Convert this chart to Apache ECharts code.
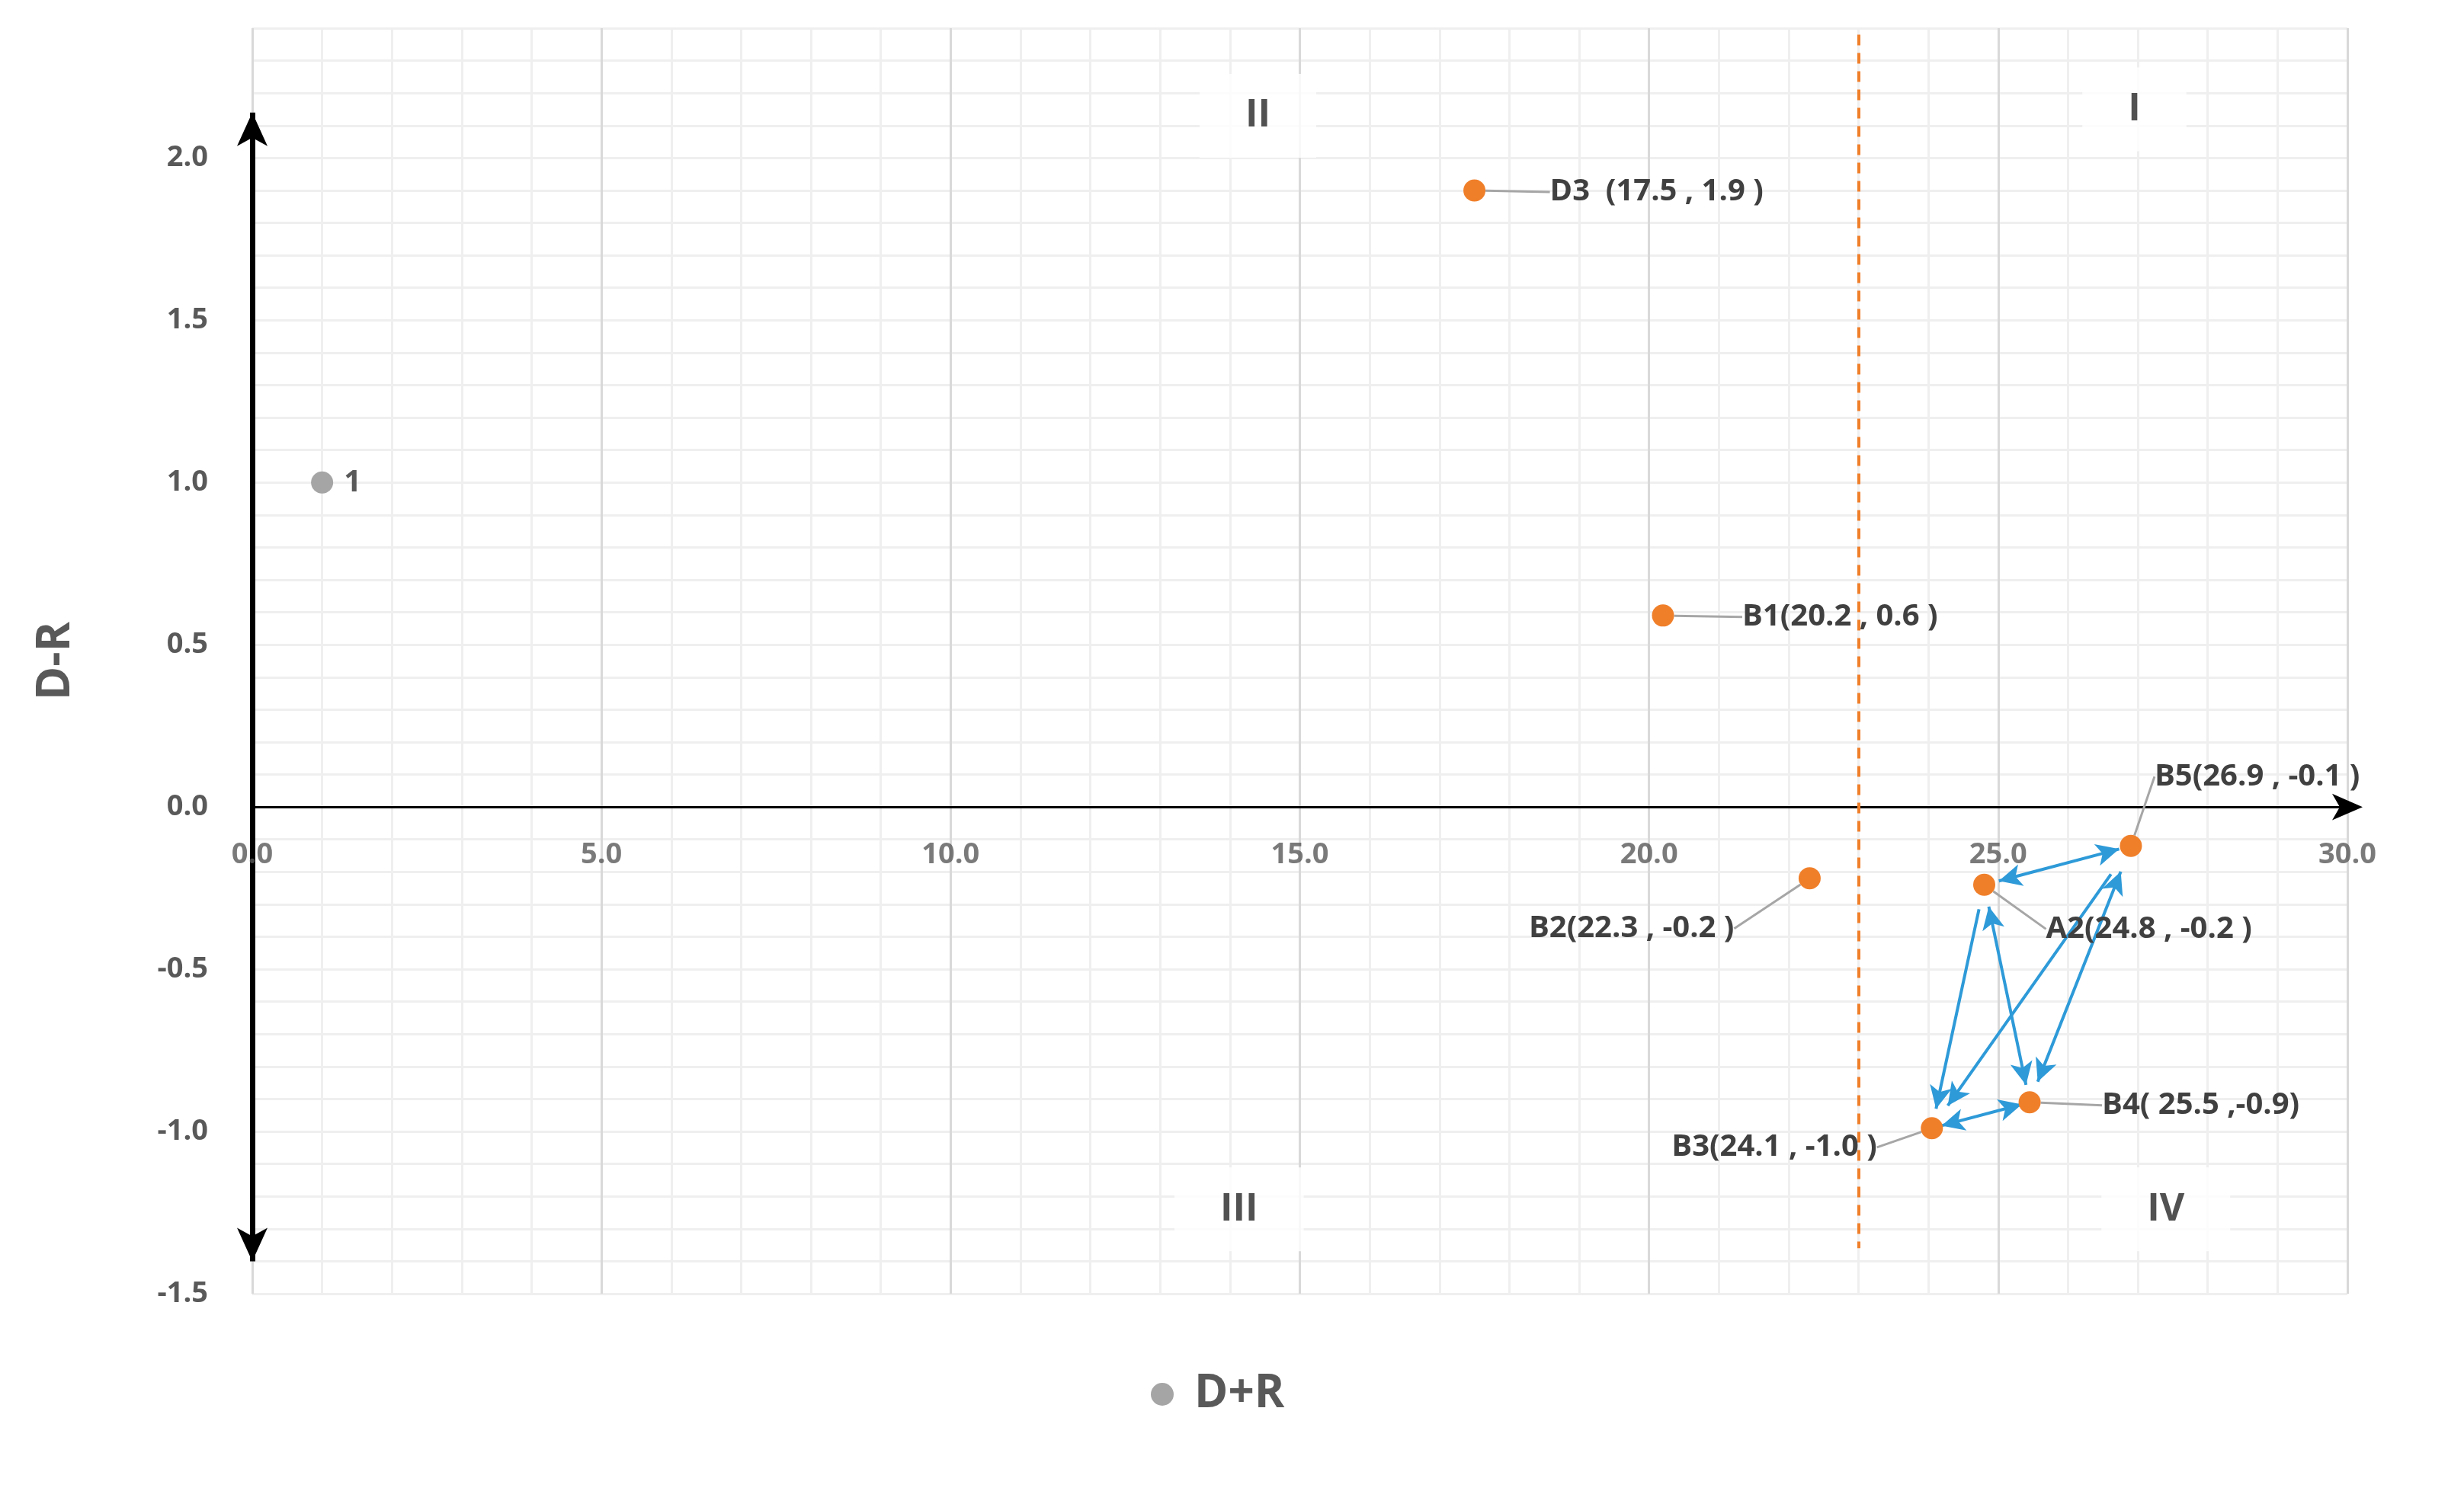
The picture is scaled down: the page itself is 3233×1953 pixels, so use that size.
<!DOCTYPE html>
<html lang="en">
<head>
<meta charset="utf-8">
<title>D+R / D-R</title>
<style>
* { margin: 0; padding: 0; }
#chart-container { position: relative; width: 3233px; height: 1953px; overflow: hidden; background: #fff; }
</style>
</head>
<body>
<div id="chart-container"></div>
<script src="https://cdn.jsdelivr.net/npm/echarts@6/dist/echarts.min.js"></script>
<script>
// data
const pointNames = ['D3', 'B1', 'B2', 'A2', 'B5', 'B3', 'B4'];
const pointX = [17.5, 20.2, 22.3, 24.8, 26.9, 24.05, 25.45];
const pointY = [1.9, 0.59, -0.22, -0.24, -0.12, -0.99, -0.91];
const pointLabels = ['D3  (17.5 , 1.9 )', 'B1(20.2 , 0.6 )', 'B2(22.3 , -0.2 )', 'A2(24.8 , -0.2 )',
                     'B5(26.9 , -0.1 )', 'B3(24.1 , -1.0 )', 'B4( 25.5 ,-0.9)'];
const grayX = [1.0];
const grayY = [1.0];
const grayLabels = ['1'];
const thresholdX = 23.0;
const xTicks = [0, 5, 10, 15, 20, 25, 30];
const quadrantNames = ['I', 'II', 'III', 'IV'];
const quadrantX = [26.95, 14.4, 14.13, 27.4];
const quadrantY = [2.15, 2.13, -1.24, -1.24];
// arrows: [from, to, double-headed]
const arrowPairs = [['A2', 'B5', true], ['B3', 'B4', true], ['A2', 'B4', true],
                    ['B5', 'B4', true], ['B5', 'B3', false], ['A2', 'B3', false]];

// label offsets in px (layout only)
const labelOffsets = {
  D3: [99, 2, 'left'], B1: [104, 2, 'left'], B2: [-99, 66, 'right'], A2: [81, 58, 'left'],
  B5: [31, -91, 'left'], B3: [-72, 25, 'right'], B4: [95, 4, 'left']
};

const orange = '#F07F2A';
const blue = '#2E9AD8';
const textCol = '#404040';
const font = "'Liberation Sans Narrow', 'Open Sans', sans-serif";

const idx = n => pointNames.indexOf(n);
function shrink(a, b, f) {
  return [pointX[a] + (pointX[b] - pointX[a]) * f, pointY[a] + (pointY[b] - pointY[a]) * f];
}
const arrowLines = arrowPairs.map(p => {
  const a = idx(p[0]), b = idx(p[1]);
  return [
    { coord: shrink(a, b, 0.1), symbol: p[2] ? 'arrow' : 'none' },
    { coord: shrink(b, a, 0.08), symbol: 'arrow' }
  ];
});

const pointData = pointNames.map((n, i) => ({
  value: [pointX[i], pointY[i]],
  name: n,
  label: { formatter: pointLabels[i], align: labelOffsets[n][2] }
}));

var dom = document.getElementById('chart-container');
var myChart = echarts.init(dom, null, { renderer: 'canvas' });

var option = {
  animation: false,
  textStyle: { fontFamily: font },
  grid: { left: 331, right: 153, top: 37, bottom: 255 },
  legend: {
    data: ['D+R'],
    left: 1505, top: 1795,
    icon: 'circle', itemWidth: 30, itemHeight: 30,
    textStyle: { fontSize: 60, fontWeight: 'bold', color: '#595959', fontFamily: font, padding: [0, 0, 0, 22] }
  },
  xAxis: {
    type: 'value', min: 0, max: 30, interval: 5,
    axisLine: { onZero: true, lineStyle: { color: '#000', width: 3 }, symbol: ['none', 'arrow'], symbolSize: [26, 40], symbolOffset: [0, 20] },
    axisTick: { show: false },
    axisLabel: { show: false },
    splitLine: { lineStyle: { color: '#d9d9d9', width: 3 } },
    minorTick: { show: false, splitNumber: 5 },
    minorSplitLine: { show: true, lineStyle: { color: '#efefef', width: 3 } }
  },
  yAxis: {
    type: 'value', min: -1.5, max: 2.4, interval: 0.5,
    name: 'D-R', nameLocation: 'middle', nameGap: 227,
    nameTextStyle: { fontSize: 60, fontWeight: 'bold', color: '#595959' },
    axisLine: { show: false },
    axisTick: { show: false },
    axisLabel: { fontSize: 38, fontWeight: 'bold', color: '#595959', margin: 58, showMaxLabel: false,
                 formatter: v => v > 2.01 ? '' : v.toFixed(1) },
    splitLine: { lineStyle: { color: '#efefef', width: 3 } },
    minorTick: { show: false, splitNumber: 5 },
    minorSplitLine: { show: true, lineStyle: { color: '#efefef', width: 3 } }
  },
  series: [
    {
      name: 'points', type: 'scatter', symbolSize: 29, z: 5,
      itemStyle: { color: orange, opacity: 1 },
      data: pointData,
      label: { show: true, position: 'inside', fontSize: 40, fontWeight: 'bold', color: textCol, verticalAlign: 'middle' },
      labelLine: { show: true, lineStyle: { color: '#a6a6a6', width: 3 } },
      labelLayout: function (params) {
        const o = labelOffsets[pointNames[params.dataIndex]];
        return { dx: o[0], dy: o[1] };
      },
      markLine: {
        silent: true, symbolSize: [22, 30],
        label: { show: false },
        lineStyle: { color: blue, width: 4, type: 'solid' },
        data: arrowLines
      }
    },
    {
      name: 'D+R', type: 'scatter', symbolSize: 29,
      itemStyle: { color: '#a5a5a5', opacity: 1 },
      data: grayX.map((x, i) => ({ value: [x, grayY[i]], label: { formatter: grayLabels[i] } })),
      label: { show: true, position: 'right', distance: 14, fontSize: 40, fontWeight: 'bold', color: '#595959' },
      markLine: {
        silent: true, symbol: ['none', 'none'], label: { show: false },
        lineStyle: { color: orange, width: 4, type: [14, 10] },
        data: [[{ coord: [thresholdX, 2.38] }, { coord: [thresholdX, -1.36] }]]
      }
    },
    {
      name: 'axis', type: 'scatter', symbolSize: 0, z: 6,
      data: xTicks.map(v => ({ value: [v, 0], label: { formatter: v.toFixed(1) } })),
      label: { show: true, position: 'bottom', distance: 44, fontSize: 38, fontWeight: 'bold', color: '#595959' },
      markLine: {
        silent: true, symbol: ['arrow', 'arrow'], symbolSize: [30, 44], label: { show: false },
        lineStyle: { color: '#000', width: 7, type: 'solid' },
        data: [[{ coord: [0, -1.4] }, { coord: [0, 2.14] }]]
      }
    },
    {
      name: 'quadrants', type: 'scatter', symbolSize: 0, z: 1,
      data: quadrantNames.map((q, i) => ({ value: [quadrantX[i], quadrantY[i]], label: { formatter: q } })),
      label: { show: true, position: 'inside', fontSize: 50, fontWeight: 'bold', color: '#262626',
               backgroundColor: '#fff', padding: [30, 60] }
    }
  ]
};

myChart.setOption(option);
window.addEventListener('resize', myChart.resize);
</script>
</body>
</html>
